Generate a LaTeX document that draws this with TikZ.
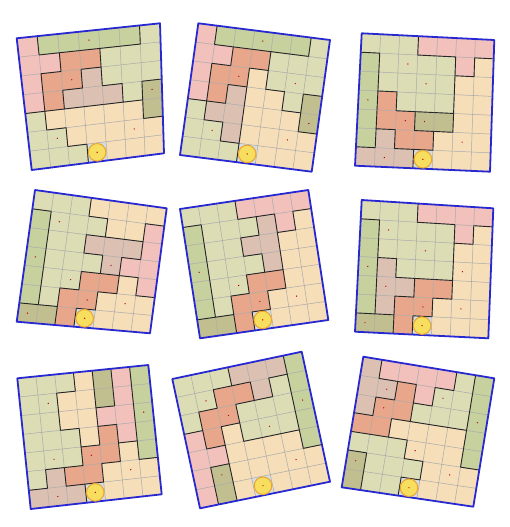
\documentclass[tikz,border=0pt]{standalone}
\usetikzlibrary{calc}

\definecolor{colP}{HTML}{F2C1BB}
\definecolor{colO}{HTML}{E8A68A}
\definecolor{colR}{HTML}{DCC1B3}
\definecolor{colL}{HTML}{DCDDB5}
\definecolor{colG}{HTML}{C7D19D}
\definecolor{colD}{HTML}{C1BF8F}
\definecolor{colY}{HTML}{F6DEB8}
\definecolor{colC}{HTML}{D6DDE2}
\definecolor{rim}{RGB}{40,40,210}
\definecolor{sun}{HTML}{F8DE5E}
\definecolor{sunedge}{HTML}{E9A431}

\tikzset{
  cellline/.style={black!35, line width=0.5pt},
  wall/.style={black!85, line width=0.9pt},
  rimline/.style={rim, line width=1.8pt, line join=round},
  marker/.style={red!75!black},
  coin/.style={fill=sun, draw=sunedge, line width=1pt}
}

% #1 name, #2..#5 corners (tl, tr, br, bl), #6 rows of cells, #7 dots row/col
\newcommand\puzzle[7]{%
  \coordinate (#1a) at #2;
  \coordinate (#1b) at #3;
  \coordinate (#1c) at #4;
  \coordinate (#1d) at #5;
  \foreach \i in {0,...,7}
    \foreach \j in {0,...,7}
      \coordinate (#1-\i-\j) at ($($(#1a)!\j/7!(#1b)$)!\i/7!($(#1d)!\j/7!(#1c)$)$);
  % cells
  \foreach \row [count=\i from 0] in {#6} {
    \foreach \cl [count=\j from 0] in \row {
      \pgfmathtruncatemacro\ii{\i+1}
      \pgfmathtruncatemacro\jj{\j+1}
      \fill[col\cl] (#1-\i-\j) -- (#1-\i-\jj) -- (#1-\ii-\jj) -- (#1-\ii-\j) -- cycle;
      \expandafter\xdef\csname #1@\i@\j\endcsname{\cl}
    }
  }
  \fill[colC] (#1-6-3) -- (#1-6-4) -- (#1-7-4) -- (#1-7-3) -- cycle;
  \foreach \k in {1,...,6} {
    \draw[cellline] (#1-\k-0) -- (#1-\k-7);
    \draw[cellline] (#1-0-\k) -- (#1-7-\k);
  }
  % walls between regions
  \foreach \i in {0,...,6}
    \foreach \j in {0,...,5} {
      \pgfmathtruncatemacro\ii{\i+1}
      \pgfmathtruncatemacro\jj{\j+1}
      \expandafter\ifx\csname #1@\i@\j\expandafter\endcsname\csname #1@\i@\jj\endcsname
      \else \draw[wall] (#1-\i-\jj) -- (#1-\ii-\jj); \fi
    }
  \foreach \i in {0,...,5}
    \foreach \j in {0,...,6} {
      \pgfmathtruncatemacro\ii{\i+1}
      \pgfmathtruncatemacro\jj{\j+1}
      \expandafter\ifx\csname #1@\i@\j\expandafter\endcsname\csname #1@\ii@\j\endcsname
      \else \draw[wall] (#1-\ii-\j) -- (#1-\ii-\jj); \fi
    }
  \draw[rimline] (#1-0-0) -- (#1-0-7) -- (#1-7-7) -- (#1-7-0) -- cycle;
  \foreach \r/\s in {#7} {
    \pgfmathtruncatemacro\dotr{\r-1}
    \pgfmathtruncatemacro\dotc{\s-1}
    \fill[marker] ($(#1-\dotr-\dotc)!0.5!(#1-\r-\s)$) circle (0.7);
  }
  \coordinate (#1-sun) at ($(#1-6-3)!0.5!(#1-7-4)$);
  \draw[coin] (#1-sun) circle (8.8);
  \fill[marker] (#1-sun) circle (0.7);
}

\begin{document}
\begin{tikzpicture}[x=1pt, y=-1pt]
  \useasboundingbox (0,0) rectangle (510,527);

  \puzzle{ga}{(16.7,38.3)}{(160,23.3)}{(164,153.3)}{(31.7,170)}
    {{P,G,G,G,G,G,L},{P,P,O,O,L,L,L},{P,O,O,R,L,L,L},{P,O,R,R,R,L,D},
     {L,Y,Y,Y,Y,Y,D},{L,L,Y,Y,Y,Y,Y},{L,L,L,Y,Y,Y,Y}}
    {1/4,3/3,4/7,6/2,6/6}
  \puzzle{gb}{(198.3,23.3)}{(330,40)}{(311.7,171.7)}{(180,155)}
    {{P,G,G,G,G,G,L},{P,P,O,O,L,L,L},{P,O,O,Y,L,L,L},{P,O,R,Y,Y,L,D},
     {L,R,R,Y,Y,Y,D},{L,L,R,Y,Y,Y,Y},{L,L,L,Y,Y,Y,Y}}
    {1/4,3/3,3/6,5/7,6/2,6/6}
  \puzzle{gc}{(361.7,33.3)}{(494.3,40)}{(490,171.7)}{(355,165.7)}
    {{L,L,L,P,P,P,P},{G,L,L,L,L,P,Y},{G,L,L,L,L,Y,Y},{G,O,L,L,L,Y,Y},
     {G,O,O,D,D,Y,Y},{G,R,O,O,Y,Y,Y},{R,R,R,Y,Y,Y,Y}}
    {2/3,3/4,4/1,5/3,5/4,6/6,7/2}

  \puzzle{gd}{(35,190)}{(166.7,208.3)}{(150,333.3)}{(16.7,321.7)}
    {{L,L,L,Y,Y,Y,Y},{G,L,L,L,Y,Y,P},{G,L,L,R,R,R,P},{G,L,L,L,R,P,P},
     {G,L,L,O,O,Y,P},{G,L,O,O,Y,Y,Y},{D,D,O,Y,Y,Y,Y}}
    {2/2,4/1,4/5,5/3,6/4,6/6,7/1}
  \puzzle{ge}{(180,209)}{(308.3,190)}{(328.3,320)}{(200,338.3)}
    {{L,L,L,P,P,P,P},{G,L,L,L,R,P,Y},{G,L,L,R,R,Y,Y},{G,L,L,L,R,Y,Y},
     {G,L,L,O,O,Y,Y},{G,L,O,O,Y,Y,Y},{D,D,O,Y,Y,Y,Y}}
    {4/1,5/3,6/4,6/6}
  \puzzle{gf}{(361.7,200)}{(493.3,208.3)}{(488.3,338.3)}{(355,331.7)}
    {{L,L,L,P,P,P,P},{G,L,L,L,L,P,Y},{G,L,L,L,L,Y,Y},{G,R,L,L,L,Y,Y},
     {G,R,R,O,O,Y,Y},{G,R,O,O,Y,Y,Y},{D,D,O,Y,Y,Y,Y}}
    {2/2,3/4,4/1,4/6,5/2,6/4,6/6,7/1}

  \puzzle{gg}{(17.3,378.3)}{(148.3,365)}{(161.7,494.3)}{(30.7,509)}
    {{L,L,L,Y,D,P,G},{L,L,Y,Y,D,P,G},{L,L,Y,Y,P,P,G},{L,L,L,Y,O,P,G},
     {L,L,L,O,O,Y,G},{L,R,O,O,Y,Y,Y},{R,R,R,Y,Y,Y,Y}}
    {2/2,3/7,5/2,5/4,6/6,7/2}
  \puzzle{gh}{(172.3,379)}{(301.7,351.7)}{(330,481.7)}{(200,508.3)}
    {{L,L,L,R,R,R,G},{L,L,O,O,R,L,G},{L,O,O,L,L,L,G},{P,O,Y,L,L,L,G},
     {P,P,Y,Y,Y,Y,G},{P,D,Y,Y,Y,Y,Y},{P,D,Y,Y,Y,Y,Y}}
    {2/2,3/3,3/7,4/5,6/2,6/6}
  \puzzle{gi}{(363.3,356.7)}{(494.3,378.3)}{(473.3,506.7)}{(341.7,487.3)}
    {{R,P,P,P,P,L,G},{R,R,O,P,L,L,G},{R,O,O,L,L,L,G},{O,O,Y,Y,Y,Y,G},
     {L,L,L,Y,Y,Y,G},{D,L,L,L,Y,Y,Y},{D,L,L,Y,Y,Y,Y}}
    {2/2,2/5,3/2,3/7,5/4,6/1,6/6}
\end{tikzpicture}
\end{document}
